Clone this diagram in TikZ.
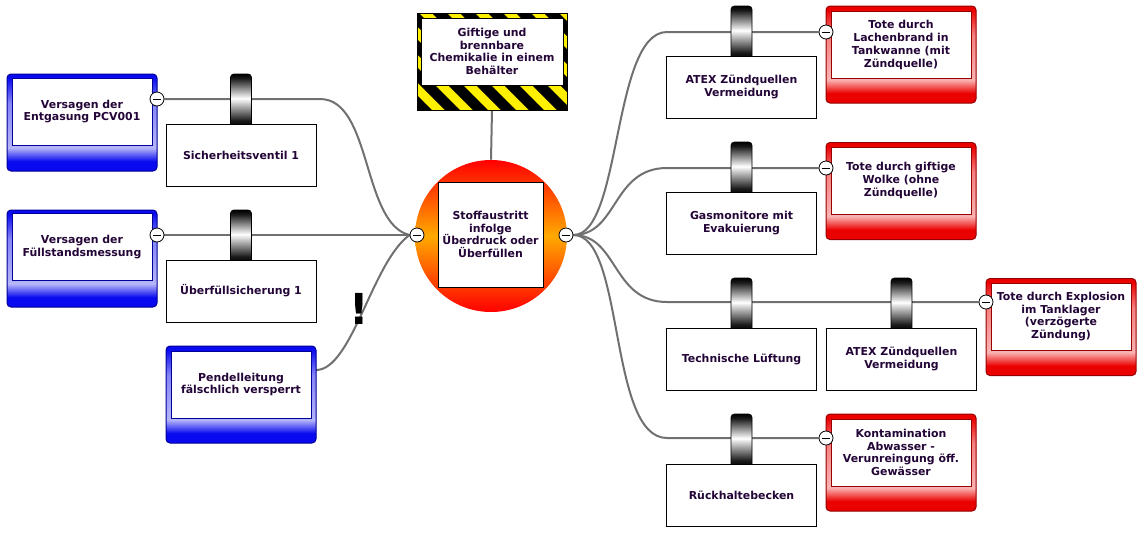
\documentclass[tikz,border=0pt]{standalone}
\usepackage{fontspec}
\setmainfont{DejaVu Sans}
\usetikzlibrary{backgrounds}
\definecolor{tblue}{RGB}{10,10,240}
\definecolor{tborder}{RGB}{0,0,150}
\definecolor{cred}{RGB}{235,0,0}
\definecolor{cborder}{RGB}{150,0,0}
\definecolor{txtcol}{RGB}{35,5,55}
\definecolor{linegray}{RGB}{112,112,112}
\definecolor{hazyellow}{RGB}{255,240,0}
\definecolor{corange}{RGB}{255,170,0}
\pgfdeclareverticalshading{threatsh}{100bp}{color(0bp)=(tblue); color(25bp)=(tblue); color(30bp)=(tblue); color(37bp)=(tblue!30!white); color(60bp)=(tblue!50!white); color(73bp)=(tblue); color(100bp)=(tblue)}
\pgfdeclareverticalshading{conssh}{100bp}{color(0bp)=(cred); color(25bp)=(cred); color(30bp)=(cred); color(37bp)=(cred!30!white); color(60bp)=(cred!50!white); color(73bp)=(cred); color(100bp)=(cred)}
\pgfdeclareverticalshading{tabsh}{100bp}{color(0bp)=(black); color(25bp)=(black); color(31bp)=(black!90!white); color(52bp)=(white); color(71bp)=(black!90!white); color(75bp)=(black); color(100bp)=(black)}
\begin{document}
\begin{tikzpicture}[x=0.75pt,y=-0.75pt,
  txt/.style={font=\bfseries\fontsize{8.2}{9.6}\selectfont, text=txtcol, align=center},
  outerbox/.style={rectangle, rounded corners=3pt, minimum width=112.5pt, minimum height=72.75pt, inner sep=0pt},
  threatbox/.style={outerbox, draw=tborder, line width=0.75pt, shading=threatsh},
  consbox/.style={outerbox, draw=cborder, line width=0.75pt, shading=conssh},
  innerwhite/.style={rectangle, fill=white, line width=0.6pt, minimum width=105pt, minimum height=50.25pt, inner sep=0pt, txt},
  barrier/.style={rectangle, draw=black, fill=white, line width=0.75pt, minimum width=112.5pt, minimum height=46.5pt, inner sep=0pt, txt},
  barriertab/.style={rectangle, rounded corners=2.5pt, draw=black, line width=0.5pt, shading=tabsh, minimum width=15.75pt, minimum height=39.75pt, inner sep=0pt},
  minusdot/.style={circle, draw=black, fill=white, line width=0.6pt, minimum size=10.5pt, inner sep=0pt,
    path picture={\draw[line width=0.7pt] ([xshift=2.2pt]path picture bounding box.west) -- ([xshift=-2.2pt]path picture bounding box.east);}},
  conn/.style={draw=linegray, line width=1.5pt}
]
\useasboundingbox (0,0) rectangle (1147,537);

% ---------- hazard ----------
\begin{scope}
  \clip (417,13) rectangle (567,110);
  \fill[hazyellow] (417,13) rectangle (567,110);
  \foreach \i in {0,...,10} {
    \fill[black] ({320+28*\i},13) -- ++(15,0) -- ++(97,97) -- ++(-15,0) -- cycle;
  }
\end{scope}
\node[rectangle, draw=black, line width=0.75pt, minimum width=112.5pt, minimum height=72.75pt, inner sep=0pt] (haz) at (492,61.5) {};
\node[innerwhite, draw=black, minimum width=106.5pt] (hazi) at (492,51.5) {Giftige und\\brennbare\\Chemikalie in einem\\Behälter};

% ---------- top event ----------
\node[circle, minimum size=114pt, inner sep=0pt, top color=red, bottom color=red, middle color=corange] (top) at (491,236) {};
\node[rectangle, draw=black, fill=white, line width=0.6pt, minimum size=78.75pt, inner sep=0pt, txt] (topi) at (490.5,234.5) {Stoffaustritt\\infolge\\Überdruck oder\\Überfüllen};
\node[minusdot] (cl) at (417,235) {};
\node[minusdot] (cr) at (566,235) {};

% ---------- threats ----------
\node[threatbox] (t1) at (82,122.5) {};
\node[innerwhite, draw=tborder] (t1i) at (82,111.5) {Versagen der\\Entgasung PCV001};
\node[minusdot] (tm1) at (157,99) {};

\node[threatbox] (t2) at (82,258.5) {};
\node[innerwhite, draw=tborder] (t2i) at (82,247) {Versagen der\\Füllstandsmessung};
\node[minusdot] (tm2) at (157,235) {};

\node[threatbox] (t3) at (241,394.5) {};
\node[innerwhite, draw=tborder] (t3i) at (241,384.5) {Pendelleitung\\fälschlich versperrt};
\coordinate (t3out) at (316,370);

\node[font=\bfseries\fontsize{32}{32}\selectfont] (warn) at (359,309) {!};

% ---------- left barriers ----------
\node[barriertab] (b1t) at (241,100.5) {};
\node[barrier] (b1) at (241,155) {Sicherheitsventil 1};
\node[barriertab] (b2t) at (241,236.5) {};
\node[barrier] (b2) at (241,291) {Überfüllsicherung 1};

% ---------- right barriers ----------
\node[barriertab] (r1t) at (741.5,32.5) {};
\node[barrier] (r1) at (741.5,87) {ATEX Zündquellen\\Vermeidung};
\node[barriertab] (r2t) at (741.5,168.5) {};
\node[barrier] (r2) at (741.5,223) {Gasmonitore mit\\Evakuierung};
\node[barriertab] (r3t) at (741.5,304.5) {};
\node[barrier] (r3) at (741.5,359) {Technische Lüftung};
\node[barriertab] (r3bt) at (901.5,304.5) {};
\node[barrier] (r3b) at (901.5,359) {ATEX Zündquellen\\Vermeidung};
\node[barriertab] (r4t) at (741.5,440.5) {};
\node[barrier] (r4) at (741.5,495) {Rückhaltebecken};

% ---------- consequences ----------
\node[consbox] (c1) at (901,54.5) {};
\node[innerwhite, draw=cborder] (c1i) at (901,45) {Tote durch\\Lachenbrand in\\Tankwanne (mit\\Zündquelle)};
\node[minusdot] (cm1) at (826,32) {};

\node[consbox] (c2) at (901,191) {};
\node[innerwhite, draw=cborder] (c2i) at (901,180.5) {Tote durch giftige\\Wolke (ohne\\Zündquelle)};
\node[minusdot] (cm2) at (826,168) {};

\node[consbox] (c3) at (1061,327) {};
\node[innerwhite, draw=cborder] (c3i) at (1061,316.5) {Tote durch Explosion\\im Tanklager\\(verzögerte\\Zündung)};
\node[minusdot] (cm3) at (986,302) {};

\node[consbox] (c4) at (901,462.5) {};
\node[innerwhite, draw=cborder] (c4i) at (901,452.5) {Kontamination\\Abwasser -\\Verunreingung öff.\\Gewässer};
\node[minusdot] (cm4) at (826,438) {};

% ---------- connectors ----------
\begin{pgfonlayer}{background}
  \draw[conn] (haz.south) -- (top.north);
  \draw[conn] (tm1.east) -- (320,99) .. controls (372,99) and (362,224) .. (cl.west);
  \draw[conn] (tm2.east) -- (cl.west);
  \draw[conn] (t3out) .. controls (352,370) and (372,262) .. (cl.west);
  \draw[conn] (cr.east) .. controls (622,235) and (612,32) .. (667,32) -- (cm1.west);
  \draw[conn] (cr.east) .. controls (618,235) and (612,168) .. (667,168) -- (cm2.west);
  \draw[conn] (cr.east) .. controls (618,235) and (612,302) .. (667,302) -- (cm3.west);
  \draw[conn] (cr.east) .. controls (625,235) and (608,438) .. (667,438) -- (cm4.west);
\end{pgfonlayer}
\end{tikzpicture}
\end{document}
